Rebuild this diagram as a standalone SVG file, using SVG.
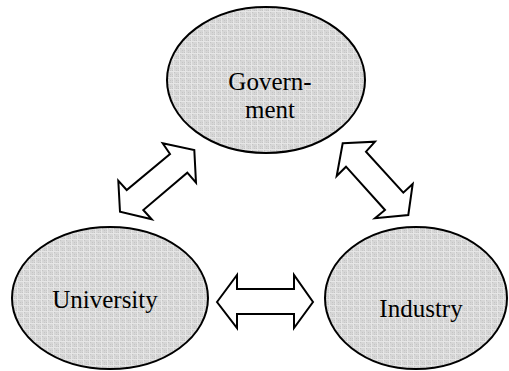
<svg xmlns="http://www.w3.org/2000/svg" width="509" height="371" viewBox="0 0 509 371">
  <defs>
    <!-- fine grey screen texture used inside the ellipses -->
    <pattern id="screen" width="6" height="6" patternUnits="userSpaceOnUse">
      <rect width="6" height="6" fill="#d6d6d6"/>
      <rect x="0" y="0" width="1" height="1" fill="#c4c4c4"/>
      <rect x="2" y="2" width="1" height="1" fill="#c4c4c4"/>
      <rect x="4" y="4" width="1" height="1" fill="#c4c4c4"/>
      <rect x="2" y="4" width="1" height="1" fill="#c8c8c8"/>
      <rect x="4" y="2" width="1" height="1" fill="#c8c8c8"/>
      <rect x="0" y="5" width="6" height="1" fill="#e6e6e6"/>
      <rect x="5" y="0" width="1" height="6" fill="#e6e6e6"/>
    </pattern>
  </defs>
  <style>
    .node ellipse { fill: url(#screen); stroke: #000; stroke-width: 2; }
    .link { fill: #fff; stroke: #000; stroke-width: 2; stroke-linejoin: miter; }
  </style>
  <rect width="509" height="371" fill="#fff"/>

  <g id="government" class="node">
    <ellipse cx="266" cy="80" rx="99" ry="73"/>
    <text x="270" y="90" font-size="25" text-anchor="middle" style="font-family: 'Liberation Serif', serif">Govern-</text>
    <text x="270" y="118" font-size="25" text-anchor="middle" style="font-family: 'Liberation Serif', serif">ment</text>
  </g>

  <g id="university" class="node">
    <ellipse cx="110" cy="298" rx="98" ry="71"/>
    <text x="105" y="308" font-size="25" text-anchor="middle" style="font-family: 'Liberation Serif', serif">University</text>
  </g>

  <g id="industry" class="node">
    <ellipse cx="416" cy="298" rx="91" ry="71"/>
    <text x="421" y="317" font-size="25" text-anchor="middle" style="font-family: 'Liberation Serif', serif">Industry</text>
  </g>

  <g id="connectors">
    <!-- University <-> Government -->
    <polygon class="link" points="162.7,143.3 194.3,150 196,182.7 187.3,172.7 143.3,210 151.7,219.3 120,211.7 118.3,180.7 126.7,190 170,154"/>
    <!-- Government <-> Industry -->
    <polygon class="link" points="342.7,143.3 375,141.7 366,151.7 403.3,192.7 412.7,184 408.3,215 375,218.3 385,210 346,166.7 336.7,176"/>
    <!-- University <-> Industry -->
    <polygon class="link" points="217,302 237,275 237,289 294,289 294,275 313,302 294,328 294,314 237,314 237,328"/>
  </g>
</svg>
